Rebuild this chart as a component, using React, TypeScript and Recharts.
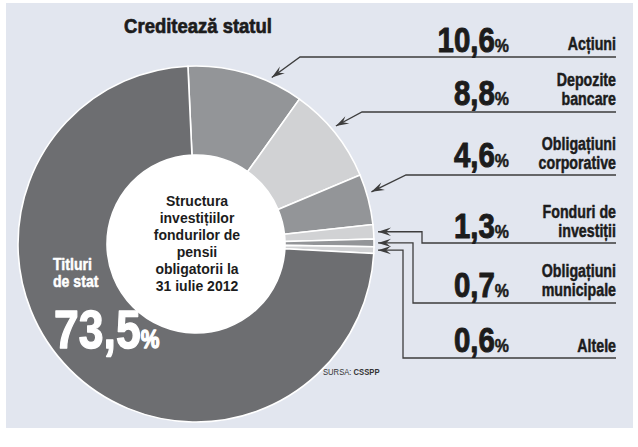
import React from 'react';
import { PieChart, Pie, Cell } from 'recharts';

// ---- data ----
const categories = [
  'Acțiuni',
  'Depozite bancare',
  'Obligațiuni corporative',
  'Fonduri de investiții',
  'Obligațiuni municipale',
  'Altele',
  'Titluri de stat',
];
const values = [10.6, 8.8, 4.6, 1.3, 0.7, 0.6, 73.5];
const nameLines = [
  ['Acțiuni'],
  ['Depozite', 'bancare'],
  ['Obligațiuni', 'corporative'],
  ['Fonduri de', 'investiții'],
  ['Obligațiuni', 'municipale'],
  ['Altele'],
  ['Titluri', 'de stat'],
];
const title = 'Creditează statul';
const centerLines = ['Structura', 'investițiilor', 'fondurilor de', 'pensii', 'obligatorii la', '31 iulie 2012'];
const sourceLabel = 'SURSA: ';
const sourceName = 'CSSPP';

const data = categories.map((name, i) => ({ name, value: values[i] }));
const discData = [{ name: 'centru', value: 1 }];

// ---- styles / layout ----
const colors = ['#939598', '#d1d2d4', '#939598', '#d1d2d4', '#939598', '#d1d2d4', '#6d6e71'];
const SANS = "'Liberation Sans', Arial, sans-serif";
const INK = '#1c1c1c';
const LINE = '#3d3d3d';

const rowLineY = [57, 112, 175, 243, 303, 358];
const rowElbowX = [300, 362, 406, 422, 413, 403];
const rowKind = ['d', 'd', 'd', 'h', 'h', 'h'];
const rowTipShift = [-8, 1.5, 2, 0, 0, 0];
const rowNumY = [52, 105, 167, 238, 297, 352];
const rowNameY = [50, 86, 150, 218, 277, 352];
const LINE_END = 616;
const NUM_RIGHT = 509;
const RAD = Math.PI / 180;

const fmt = (v: number) => v.toFixed(1).replace('.', ',');

// condensed heavy text: horizontally compressed Liberation Sans Bold, thickened by a stroke
const CText = ({
  x,
  y,
  size,
  sx = 0.83,
  anchor = 'start',
  fill = INK,
  weight = 'bold',
  heavy = 0,
  children,
}: any) => (
  <text
    transform={`translate(${x},${y}) scale(${sx},1)`}
    x={0}
    y={0}
    textAnchor={anchor}
    fill={fill}
    stroke={heavy ? fill : 'none'}
    strokeWidth={heavy}
    strokeLinejoin="round"
    fontFamily={SANS}
    fontWeight={weight}
    fontSize={size}
  >
    {children}
  </text>
);

const arrowHead = (tx: number, ty: number, px: number, py: number) => {
  const dx = px - tx;
  const dy = py - ty;
  const len = Math.sqrt(dx * dx + dy * dy) || 1;
  const ux = dx / len;
  const uy = dy / len;
  const nx = -uy;
  const ny = ux;
  const L = 13;
  const W = 4.2;
  const pts = [
    [tx, ty],
    [tx + ux * L + nx * W, ty + uy * L + ny * W],
    [tx + ux * L * 0.62, ty + uy * L * 0.62],
    [tx + ux * L - nx * W, ty + uy * L - ny * W],
  ];
  return <polygon points={pts.map((p) => p.join(',')).join(' ')} fill={LINE} />;
};

const renderOuterLabel = (p: any) => {
  const { cx, cy, midAngle, outerRadius, index, value } = p;
  if (index === 6) {
    return (
      <g>
        <CText x={53} y={270} size={17} fill="#fff" heavy={0.5}>
          {nameLines[6][0]}
        </CText>
        <CText x={53} y={287} size={17} fill="#fff" heavy={0.5}>
          {nameLines[6][1]}
        </CText>
        <CText x={54} y={348} size={53} sx={0.84} fill="#fff" heavy={1.4}>
          <tspan>{fmt(value)}</tspan>
          <tspan fontSize={25}>%</tspan>
        </CText>
      </g>
    );
  }
  const lineY = rowLineY[index];
  const ex = rowElbowX[index];
  let tx: number;
  let ty: number;
  let pts: string;
  let nextX: number;
  let nextY: number;
  if (rowKind[index] === 'd') {
    const a = (midAngle + rowTipShift[index]) * RAD;
    const r = outerRadius + 5;
    tx = cx + r * Math.cos(a);
    ty = cy - r * Math.sin(a);
    pts = `${tx},${ty} ${ex},${lineY} ${LINE_END},${lineY}`;
    nextX = ex;
    nextY = lineY;
  } else {
    const a = midAngle * RAD;
    ty = cy - outerRadius * Math.sin(a);
    tx = cx + outerRadius + 4;
    pts = `${tx},${ty} ${ex},${ty} ${ex},${lineY} ${LINE_END},${lineY}`;
    nextX = ex;
    nextY = ty;
  }
  const lines = nameLines[index];
  return (
    <g>
      <polyline points={pts} fill="none" stroke={LINE} strokeWidth={1.3} />
      {arrowHead(tx, ty, nextX, nextY)}
      <CText x={NUM_RIGHT} y={rowNumY[index]} size={35} sx={0.84} anchor="end" heavy={1}>
        <tspan>{fmt(value)}</tspan>
        <tspan fontSize={19} strokeWidth={0.5}>%</tspan>
      </CText>
      {lines.map((ln, k) => (
        <CText key={k} x={LINE_END} y={rowNameY[index] + k * 18.5} size={18} sx={0.79} anchor="end" heavy={0.5}>
          {ln}
        </CText>
      ))}
    </g>
  );
};

const renderCenter = (p: any) => {
  const { cx, cy } = p;
  return (
    <g>
      <CText x={cx + 2} y={33} size={21} sx={0.88} anchor="middle" heavy={0.7}>
        {title}
      </CText>
      {centerLines.map((ln, k) => (
        <text
          key={k}
          x={cx + 1}
          y={cy - 38 + k * 17}
          textAnchor="middle"
          fill={INK}
          fontFamily={SANS}
          fontWeight="bold"
          fontSize={14}
        >
          {ln}
        </text>
      ))}
      <CText x={323} y={375} size={9} sx={0.85} fill="#333" weight="normal">
        {sourceLabel}
        <tspan fontWeight="bold">{sourceName}</tspan>
      </CText>
    </g>
  );
};

export default function App() {
  return (
    <div style={{ position: 'absolute', left: 0, top: 0, width: 638, height: 447, background: '#fff' }}>
      <div style={{ position: 'absolute', left: 6, top: 3, width: 627, height: 425, background: '#e2e6ef' }} />
      <div style={{ position: 'absolute', left: 0, top: 0 }}>
        <PieChart width={638} height={447} margin={{ top: 0, right: 0, bottom: 0, left: 0 }}>
          <Pie
            data={discData}
            dataKey="value"
            cx={196}
            cy={244}
            innerRadius={0}
            outerRadius={89}
            fill="#ffffff"
            stroke="none"
            isAnimationActive={false}
            label={renderCenter}
            labelLine={false}
          />
          <Pie
            data={data}
            dataKey="value"
            nameKey="name"
            cx={196}
            cy={244}
            innerRadius={89}
            outerRadius={178}
            startAngle={92.6}
            endAngle={-267.4}
            stroke="#ffffff"
            strokeWidth={1.6}
            isAnimationActive={false}
            label={renderOuterLabel}
            labelLine={false}
          >
            {data.map((d, i) => (
              <Cell key={d.name} fill={colors[i]} />
            ))}
          </Pie>
        </PieChart>
      </div>
    </div>
  );
}
